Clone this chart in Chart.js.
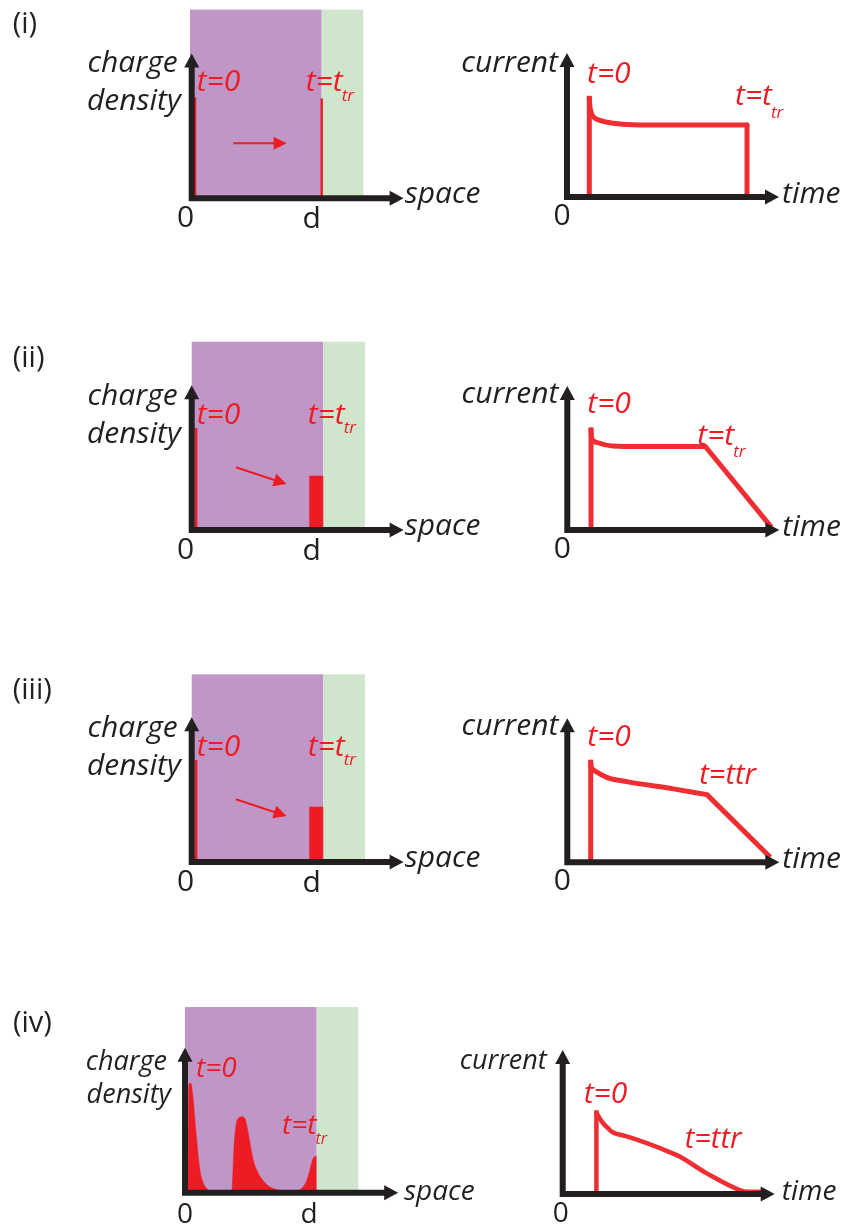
<!DOCTYPE html>
<html>
<head>
<meta charset="utf-8">
<script src="https://cdn.jsdelivr.net/npm/chart.js@4/dist/chart.umd.min.js"></script>
<style>
  html, body { margin: 0; padding: 0; background: #fff; overflow: hidden; }
  #wrap { position: relative; width: 845px; height: 1225px; }
  #wrap canvas { position: absolute; }
</style>
</head>
<body>
<div id="wrap"></div>
<script>
const ink = '#231f20';
const red = '#ed1c24';
const purple = '#bf96c5';
const green = '#cfe6cd';

const rowLabels = ['(i)', '(ii)', '(iii)', '(iv)'];

// charge density vs space (space in units of d)
const densityI_t0 = [[0.025, 0], [0.025, 0.99]];
const densityI_ttr = [[1.0, 0], [1.0, 0.98]];
const densityII_t0 = [[0.033, 0], [0.033, 1.0]];
const densityII_ttr = [[0.905, 0], [0.905, 0.53], [1.008, 0.53], [1.008, 0]];
const densityIII_t0 = [[0.033, 0], [0.033, 1.0]];
const densityIII_ttr = [[0.905, 0], [0.905, 0.54], [1.008, 0.54], [1.008, 0]];
const densityIV = [
  [0.0, 0], [0.02, 0], [0.025, 0.5], [0.028, 0.95], [0.033, 1.07], [0.047, 1.07], [0.056, 1.0],
  [0.064, 0.91], [0.077, 0.7], [0.09, 0.52], [0.115, 0.22], [0.14, 0.1], [0.167, 0.04],
  [0.215, 0.01], [0.36, 0.01], [0.367, 0.15], [0.376, 0.42], [0.39, 0.64], [0.41, 0.73],
  [0.436, 0.745], [0.46, 0.73], [0.475, 0.66], [0.49, 0.56], [0.525, 0.32], [0.56, 0.2],
  [0.60, 0.12], [0.65, 0.06], [0.705, 0.03], [0.83, 0.01], [0.88, 0.025], [0.91, 0.06],
  [0.94, 0.13], [0.96, 0.22], [0.985, 0.335], [1.013, 0.36]
];

// photocurrent vs time
const currentI = [[0.223, 0], [0.223, 1.37], [0.228, 1.27], [0.24, 1.18], [0.263, 1.115], [0.33, 1.065], [0.46, 1.025], [0.73, 1.0], [1.80, 1.0], [1.80, 0]];
const currentII = [[0.237, 0], [0.237, 1.39], [0.242, 1.29], [0.255, 1.245], [0.297, 1.215], [0.457, 1.167], [0.73, 1.16], [1.38, 1.16], [2.04, 0.04]];
const currentIII = [[0.234, 0], [0.234, 1.39], [0.24, 1.32], [0.255, 1.29], [0.28, 1.265], [0.394, 1.18], [0.594, 1.12], [1.06, 1.02], [1.397, 0.94], [2.03, 0.07]];
const currentIV = [[0.337, 0], [0.337, 1.13], [0.37, 1.05], [0.406, 0.98], [0.456, 0.91], [0.49, 0.865], [0.54, 0.835], [0.64, 0.80], [1.10, 0.565], [1.17, 0.52], [1.437, 0.29], [1.77, 0.055], [1.85, 0.03], [2.0, 0.03]];
// index range of each current trace that is a smooth curve
const currentCurved = [[1, 8], [1, 7], [1, 8], [1, 13]];

// sample (purple) and electrode (green) spans along space: [from, to, top]
const sampleSpans = [[-0.013, 1.0, 1.85], [0, 1.012, 1.846], [0, 1.012, 1.84], [0, 1.013, 1.82]];
const electrodeSpans = [[1.0, 1.32, 1.85], [1.012, 1.333, 1.846], [1.012, 1.333, 1.84], [1.013, 1.333, 1.82]];

// drift arrows [x0, y0, x1, y1]
const driftArrows = [[0.32, 0.54, 0.73, 0.54], [0.34, 0.615, 0.73, 0.45], [0.34, 0.615, 0.73, 0.45], null];

const IT = s => `italic ${s}px "Open Sans"`;
const UP = s => `${s}px "Open Sans"`;

function arrowHead(ctx, tx, ty, ang, len, half) {
  const c = Math.cos(ang), s = Math.sin(ang);
  ctx.beginPath();
  ctx.moveTo(tx, ty);
  ctx.lineTo(tx - len * c + half * s, ty - len * s - half * c);
  ctx.lineTo(tx - len * c - half * s, ty - len * s + half * c);
  ctx.closePath();
  ctx.fill();
}

function decor(spec) {
  return {
    id: 'decor',
    beforeDatasetsDraw(chart) {
      const { ctx, scales: { x, y } } = chart;
      ctx.save();
      (spec.regions || []).forEach(([from, to, top, color]) => {
        const x0 = x.getPixelForValue(from), x1 = x.getPixelForValue(to);
        const y0 = y.getPixelForValue(top), y1 = y.getPixelForValue(0);
        ctx.fillStyle = color;
        ctx.fillRect(x0, y0, x1 - x0, y1 - y0);
      });
      ctx.restore();
    },
    afterDatasetsDraw(chart) {
      const { ctx, scales: { x, y } } = chart;
      const ox = x.getPixelForValue(0), oy = y.getPixelForValue(0);
      const tx = x.getPixelForValue(spec.tip[0]), ty = y.getPixelForValue(spec.tip[1]);
      ctx.save();
      // axes
      ctx.strokeStyle = ink;
      ctx.fillStyle = ink;
      ctx.lineWidth = 6;
      ctx.lineJoin = 'miter';
      ctx.lineCap = 'butt';
      ctx.beginPath();
      ctx.moveTo(ox, ty + 10);
      ctx.lineTo(ox, oy);
      ctx.lineTo(tx - 10, oy);
      ctx.stroke();
      arrowHead(ctx, ox, ty, -Math.PI / 2, 14, 7.5);
      arrowHead(ctx, tx, oy, 0, 14, 7.5);
      // drift arrow
      if (spec.arrow) {
        const [a0, b0, a1, b1] = spec.arrow;
        const x0 = x.getPixelForValue(a0), y0 = y.getPixelForValue(b0);
        const x1 = x.getPixelForValue(a1), y1 = y.getPixelForValue(b1);
        const ang = Math.atan2(y1 - y0, x1 - x0);
        ctx.strokeStyle = red;
        ctx.fillStyle = red;
        ctx.lineWidth = 2;
        ctx.beginPath();
        ctx.moveTo(x0, y0);
        ctx.lineTo(x1 - 10 * Math.cos(ang), y1 - 10 * Math.sin(ang));
        ctx.stroke();
        arrowHead(ctx, x1, y1, ang, 13, 6.5);
      }
      // texts
      ctx.textBaseline = 'alphabetic';
      spec.texts.forEach(t => {
        ctx.font = t.font;
        ctx.fillStyle = t.color || ink;
        ctx.textAlign = t.align || 'left';
        const px = ox + t.dx, py = oy + t.dy;
        ctx.fillText(t.t, px, py);
        if (t.sub) {
          const w = ctx.measureText(t.t).width;
          ctx.font = t.subFont;
          ctx.textAlign = 'left';
          ctx.fillText(t.sub, px + w - 1, py + t.subDy);
        }
      });
      ctx.restore();
    }
  };
}

function makePanel(p) {
  const wrap = document.getElementById('wrap');
  const cv = document.createElement('canvas');
  cv.width = p.w; cv.height = p.h;
  cv.style.left = p.left + 'px';
  cv.style.top = p.top + 'px';
  cv.style.width = p.w + 'px';
  cv.style.height = p.h + 'px';
  wrap.appendChild(cv);
  const ox = p.origin[0] - p.left, oy = p.origin[1] - p.top;
  return new Chart(cv, {
    type: 'line',
    data: {
      datasets: p.series.map(s => ({
        data: s.pts.map(([x, y]) => ({ x, y })),
        borderColor: s.color || red,
        backgroundColor: s.color || red,
        borderWidth: s.width,
        fill: s.fill ? 'origin' : false,
        borderJoinStyle: 'round',
        borderCapStyle: s.cap || 'butt',
        cubicInterpolationMode: s.smooth ? 'monotone' : 'default',
        tension: 0,
        pointRadius: 0
      }))
    },
    options: {
      responsive: false,
      animation: false,
      events: [],
      devicePixelRatio: 1,
      layout: { padding: 0, autoPadding: false },
      plugins: { legend: { display: false }, tooltip: { enabled: false } },
      scales: {
        x: { type: 'linear', display: false, min: -ox / p.ux, max: (p.w - ox) / p.ux },
        y: { type: 'linear', display: false, min: -(p.h - oy) / p.uy, max: oy / p.uy }
      }
    },
    plugins: [decor(p)]
  });
}

// split a current trace into straight and smooth pieces
function currentPieces(pts, [a, b], width) {
  const color = '#ee2e32';
  const pieces = [];
  if (a > 0) pieces.push({ pts: pts.slice(0, a + 1), width, color, cap: 'square' });
  pieces.push({ pts: pts.slice(a, b + 1), width, color, smooth: true, cap: 'round' });
  if (b < pts.length - 1) pieces.push({ pts: pts.slice(b), width, color, cap: 'butt' });
  return pieces;
}

const rowTops = [0, 330, 662, 994];
const rowHeights = [240, 240, 240, 231];
const leftOrigins = [[191.7, 198.3], [191.7, 530], [191.7, 862], [185, 1192.7]];
const rightOrigins = [[567, 197], [567.3, 530], [567.3, 862.3], [562.7, 1194]];

const leftSeries = [
  [{ pts: densityI_t0, width: 2.6 }, { pts: densityI_ttr, width: 2.4 }],
  [{ pts: densityII_t0, width: 2.8 }, { pts: densityII_ttr, width: 0.5, fill: true }],
  [{ pts: densityIII_t0, width: 2.8 }, { pts: densityIII_ttr, width: 0.5, fill: true }],
  [{ pts: densityIV, width: 0.5, fill: true, smooth: true }]
];
const rightSeries = [currentI, currentII, currentIII, currentIV];

const leftTexts = [
  [
    { t: rowLabels[0], dx: -179, dy: -165, font: UP(29) },
    { t: 'charge', dx: -14, dy: -126, font: IT(30), align: 'right' },
    { t: 'density', dx: -11, dy: -88, font: IT(30), align: 'right' },
    { t: 't=0', dx: 5, dy: -107, font: IT(30), color: red },
    { t: 't=t', dx: 114, dy: -107, font: IT(30), color: red, sub: 'tr', subFont: IT(17), subDy: 10 },
    { t: '0', dx: -6, dy: 29, font: UP(30), align: 'center' },
    { t: 'd', dx: 120, dy: 30, font: UP(30), align: 'center' },
    { t: 'space', dx: 213, dy: 5, font: IT(30) }
  ],
  [
    { t: rowLabels[1], dx: -179, dy: -163, font: UP(29) },
    { t: 'charge', dx: -14, dy: -125, font: IT(30), align: 'right' },
    { t: 'density', dx: -11, dy: -87, font: IT(30), align: 'right' },
    { t: 't=0', dx: 5, dy: -106, font: IT(30), color: red },
    { t: 't=t', dx: 116, dy: -106, font: IT(30), color: red, sub: 'tr', subFont: IT(17), subDy: 9 },
    { t: '0', dx: -6, dy: 29, font: UP(30), align: 'center' },
    { t: 'd', dx: 120, dy: 30, font: UP(30), align: 'center' },
    { t: 'space', dx: 213, dy: 5, font: IT(30) }
  ],
  [
    { t: rowLabels[2], dx: -179, dy: -163, font: UP(29) },
    { t: 'charge', dx: -14, dy: -125, font: IT(30), align: 'right' },
    { t: 'density', dx: -11, dy: -87, font: IT(30), align: 'right' },
    { t: 't=0', dx: 5, dy: -106, font: IT(30), color: red },
    { t: 't=t', dx: 116, dy: -106, font: IT(30), color: red, sub: 'tr', subFont: IT(17), subDy: 9 },
    { t: '0', dx: -6, dy: 29, font: UP(30), align: 'center' },
    { t: 'd', dx: 120, dy: 30, font: UP(30), align: 'center' },
    { t: 'space', dx: 213, dy: 5, font: IT(30) }
  ],
  [
    { t: rowLabels[3], dx: -172, dy: -161, font: UP(29) },
    { t: 'charge', dx: -18, dy: -123, font: IT(27), align: 'right' },
    { t: 'density', dx: -14, dy: -90, font: IT(27), align: 'right' },
    { t: 't=0', dx: 11, dy: -116, font: IT(28), color: red },
    { t: 't=t', dx: 97, dy: -59, font: IT(28), color: red, sub: 'tr', subFont: IT(16), subDy: 10 },
    { t: '0', dx: 0, dy: 30, font: UP(28), align: 'center' },
    { t: 'd', dx: 124, dy: 30, font: UP(28), align: 'center' },
    { t: 'space', dx: 219, dy: 7, font: IT(28) }
  ]
];

const rightTexts = [
  [
    { t: 'current', dx: -9, dy: -125, font: IT(30), align: 'right' },
    { t: 't=0', dx: 20, dy: -114, font: IT(30), color: red },
    { t: 't=t', dx: 168, dy: -92, font: IT(30), color: red, sub: 'tr', subFont: IT(17), subDy: 13 },
    { t: 'time', dx: 215, dy: 6, font: IT(30) },
    { t: '0', dx: -5, dy: 28, font: UP(30), align: 'center' }
  ],
  [
    { t: 'current', dx: -9, dy: -127, font: IT(30), align: 'right' },
    { t: 't=0', dx: 20, dy: -117, font: IT(30), color: red },
    { t: 't=t', dx: 130, dy: -85, font: IT(30), color: red, sub: 'tr', subFont: IT(17), subDy: 12 },
    { t: 'time', dx: 215, dy: 6, font: IT(30) },
    { t: '0', dx: -5, dy: 28, font: UP(30), align: 'center' }
  ],
  [
    { t: 'current', dx: -9, dy: -127, font: IT(30), align: 'right' },
    { t: 't=0', dx: 20, dy: -116, font: IT(30), color: red },
    { t: 't=ttr', dx: 132, dy: -78, font: IT(29), color: red },
    { t: 'time', dx: 215, dy: 6, font: IT(30) },
    { t: '0', dx: -5, dy: 28, font: UP(30), align: 'center' }
  ],
  [
    { t: 'current', dx: -16, dy: -125, font: IT(27), align: 'right' },
    { t: 't=0', dx: 21, dy: -91, font: IT(30), color: red },
    { t: 't=ttr', dx: 122, dy: -46, font: IT(29), color: red },
    { t: 'time', dx: 219, dy: 6, font: IT(28) },
    { t: '0', dx: -2, dy: 28, font: UP(28), align: 'center' }
  ]
];

rowTops.forEach((top, i) => {
  const s = sampleSpans[i], e = electrodeSpans[i];
  makePanel({
    left: 0, top, w: 500, h: rowHeights[i],
    origin: leftOrigins[i], ux: 130, uy: 102,
    tip: [i === 3 ? 1.64 : 1.63, 1.42],
    regions: [[s[0], s[1], s[2], purple], [e[0], e[1], e[2], green]],
    arrow: driftArrows[i],
    series: leftSeries[i],
    texts: leftTexts[i]
  });
  makePanel({
    left: 440, top, w: 405, h: rowHeights[i],
    origin: rightOrigins[i], ux: 100, uy: 72,
    tip: [2.12, 2.0],
    series: currentPieces(rightSeries[i], currentCurved[i], i === 3 ? 4.5 : 5),
    texts: rightTexts[i]
  });
});
</script>
</body>
</html>
